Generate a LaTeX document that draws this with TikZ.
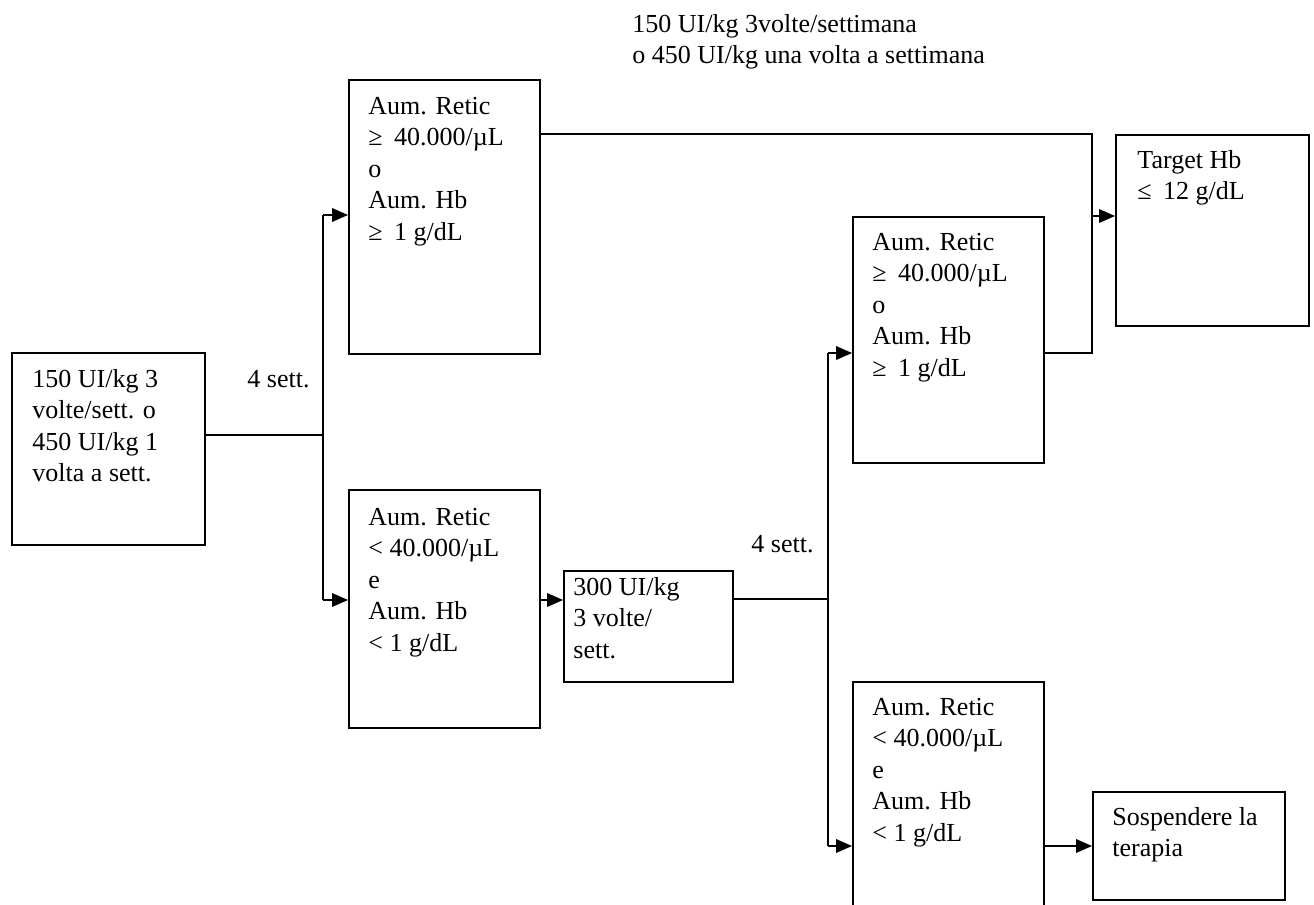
\documentclass[tikz,border=0pt]{standalone}
\usepackage{fontspec}
\setmainfont{Liberation Serif}
\usetikzlibrary{arrows.meta,calc}
\newcommand{\geqsp}{≥\hspace{5pt}}
\newcommand{\leqsp}{≤\hspace{5pt}}
\begin{document}
\begin{tikzpicture}[x=0.4384pt,y=-0.4384pt,
  box/.style={draw, line width=0.8pt, inner sep=0pt, anchor=north west},
  txt/.style={inner sep=0pt, anchor=north west, align=left, font=\fontsize{11.4}{13.8}\selectfont},
  lbl/.style={inner sep=0pt, anchor=base west, font=\fontsize{11.4}{13.8}\selectfont},
  conn/.style={line width=0.6pt},
  arr/.style={conn, -{Triangle[length=7pt,width=6pt]}}]
\useasboundingbox (0,0) rectangle (1314,905);
\clip (0,0) rectangle (1314,905);

% boxes
\node[box, minimum width={193*0.4384pt}, minimum height={192*0.4384pt}] (L) at (11,352) {};
\node[box, minimum width={191*0.4384pt}, minimum height={274*0.4384pt}] (A) at (348,79) {};
\node[box, minimum width={191*0.4384pt}, minimum height={238*0.4384pt}] (B) at (348,489) {};
\node[box, minimum width={169*0.4384pt}, minimum height={111*0.4384pt}] (C) at (563,570) {};
\node[box, minimum width={191*0.4384pt}, minimum height={246*0.4384pt}] (D) at (852,216) {};
\node[box, minimum width={191*0.4384pt}, minimum height={260*0.4384pt}] (E) at (852,681) {};
\node[box, minimum width={193*0.4384pt}, minimum height={191*0.4384pt}] (T) at (1115,134) {};
\node[box, minimum width={192*0.4384pt}, minimum height={108*0.4384pt}] (S) at (1092,791) {};

% box texts
\node[txt] (tL) at ($(L.north west)+(21,13)$) {\strut 150 UI/kg 3\\volte/sett. o\\450 UI/kg 1\\volta a sett.};
\node[txt] (tA) at ($(A.north west)+(20,13)$) {\strut Aum. Retic\\\geqsp 40.000/µL\\o\\Aum. Hb\\\geqsp 1 g/dL};
\node[txt] (tB) at ($(B.north west)+(20,14)$) {\strut Aum. Retic\\< 40.000/µL\\e\\Aum. Hb\\< 1 g/dL};
\node[txt] (tC) at ($(C.north west)+(10,3)$) {\strut 300 UI/kg\\3 volte/\\sett.};
\node[txt] (tD) at ($(D.north west)+(20,12)$) {\strut Aum. Retic\\\geqsp 40.000/µL\\o\\Aum. Hb\\\geqsp 1 g/dL};
\node[txt] (tE) at ($(E.north west)+(20,12)$) {\strut Aum. Retic\\< 40.000/µL\\e\\Aum. Hb\\< 1 g/dL};
\node[txt] (tT) at ($(T.north west)+(22,12)$) {\strut Target Hb\\\leqsp 12 g/dL};
\node[txt] (tS) at ($(S.north west)+(20,12)$) {\strut Sospendere la\\terapia};

% free texts
\node[txt] (note) at (632,10) {\strut 150 UI/kg 3volte/settimana\\o 450 UI/kg una volta a settimana};
\node[lbl] (w1) at (247,387) {4 sett.};
\node[lbl] (w2) at (751,552) {4 sett.};

% junctions
\coordinate (j1) at (323,435);
\coordinate (j1t) at (323,215);
\coordinate (j1b) at (323,600);
\coordinate (j2) at (828,599);
\coordinate (j2t) at (828,353);
\coordinate (j2b) at (828,846);
\coordinate (j3) at (1092,134);
\coordinate (j3m) at (1092,216);
\coordinate (j3b) at (1092,353);

% connectors
\draw[conn] (L.east |- j1) -- (j1);
\draw[conn] (j1t) -- (j1b);
\draw[arr] (j1t) -- (A.west |- j1t);
\draw[arr] (j1b) -- (B.west |- j1b);
\draw[arr] (B.east |- j1b) -- (C.west |- j1b);
\draw[conn] (C.east |- j2) -- (j2);
\draw[conn] (j2t) -- (j2b);
\draw[arr] (j2t) -- (D.west |- j2t);
\draw[arr] (j2b) -- (E.west |- j2b);
\draw[arr] (E.east |- j2b) -- (S.west |- j2b);
\draw[conn] (A.east |- j3) -- (j3) -- (j3b) -- (D.east |- j3b);
\draw[arr] (j3m) -- (T.west |- j3m);
\end{tikzpicture}
\end{document}
